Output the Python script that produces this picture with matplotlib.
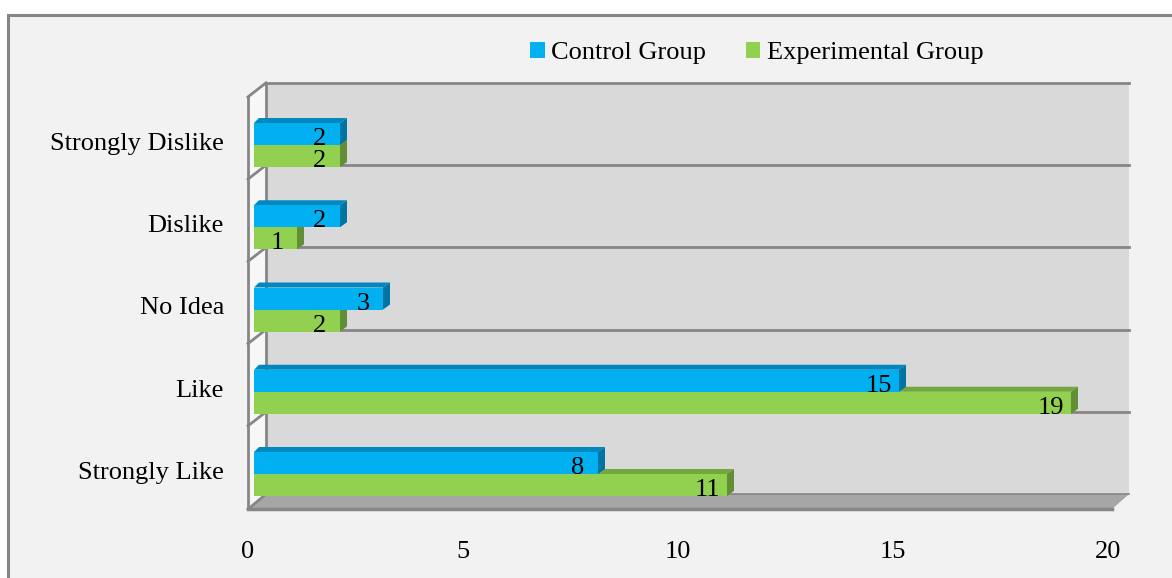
"""
Attitude toward the lessons: control vs experimental group, drawn as
Excel-style 3D clustered horizontal bars.
"""
import numpy as np
import matplotlib.pyplot as plt
from matplotlib.patches import Polygon, Rectangle, Patch

# Datos (de abajo hacia arriba)
categories = ['Strongly Like', 'Like', 'No Idea', 'Dislike', 'Strongly Dislike']
control = [8, 15, 3, 2, 2]
experimental = [11, 19, 2, 1, 2]
series_names = ['Control Group', 'Experimental Group']
xticks = [0, 5, 10, 15, 20]

# Colores (cara frontal, cara superior, cara lateral)
BLUE = ('#00b0f0', '#0088bf', '#0074a3')
GREEN = ('#92d050', '#73a83f', '#628f35')
WALL = '#d9d9d9'
SIDE_WALL = '#f7f7f7'
FLOOR = '#a6a6a6'
LINE = '#868686'
BG = '#f2f2f2'
FONT = 'Liberation Serif'

W, H = 1172, 578
fig = plt.figure(figsize=(W / 100, H / 100), dpi=100)
fig.patch.set_facecolor('white')
fig.patches.append(Rectangle((8 / W, -0.1), 1.2, (H - 15) / H + 0.1, zorder=-5,
                             transform=fig.transFigure, fc=BG, ec=LINE, lw=2.2))

# Ejes: 0..20 sobre 860 px, una categoria cada 82.25 px
ax = fig.add_axes([254 / W, (104 - 41.125) / H, 860 / W, 411.25 / H])
ax.set_xlim(0, 20)
ax.set_ylim(-0.5, 4.5)
ax.axis('off')
sx = 20 / 860      # unidades x por pixel
sy = 1 / 82.25     # unidades y por pixel

xmax = xticks[-1]
y_lo, y_hi = -0.5, len(categories) - 0.5

# Pared del fondo
bx0, bx1, bdy = 12 * sx, xmax + 15 * sx, 21 * sy
ax.add_patch(Polygon([(bx0, y_lo + bdy), (bx1, y_lo + bdy), (bx1, y_hi + bdy), (bx0, y_hi + bdy)],
                     closed=True, fc=WALL, ec='none', zorder=1, clip_on=False))
# Pared lateral izquierda
fx0, fdy = -6 * sx, 7 * sy
ax.add_patch(Polygon([(fx0, y_lo + 6 * sy), (bx0, y_lo + bdy), (bx0, y_hi + bdy), (fx0, y_hi + fdy)],
                     closed=True, fc=SIDE_WALL, ec='none', zorder=1, clip_on=False))
# Suelo
ax.add_patch(Polygon([(fx0, y_lo + 6 * sy), (bx0, y_lo + bdy), (bx1, y_lo + bdy), (xmax - 2 * sx, y_lo + 6 * sy)],
                     closed=True, fc=FLOOR, ec='none', zorder=1, clip_on=False))
ax.plot([fx0, xmax - 2 * sx], [y_lo + 6 * sy] * 2, color=LINE, lw=2.5, zorder=2, clip_on=False)
ax.plot([bx0, bx1], [y_lo + bdy] * 2, color=LINE, lw=1.2, zorder=2, clip_on=False)

# Lineas de division
edges = np.arange(len(categories) + 1) - 0.5
for k, e in enumerate(edges):
    if 0 < k:
        ax.plot([bx0, bx1], [e + bdy] * 2, color=LINE, lw=2, zorder=2, clip_on=False)
    ax.plot([fx0, bx0], [e + fdy if k else e + 6 * sy, e + bdy], color=LINE, lw=2, zorder=2, clip_on=False)
ax.plot([bx0, bx0], [y_lo + bdy, y_hi + bdy], color=LINE, lw=2, zorder=2, clip_on=False)
ax.plot([fx0, fx0], [y_lo + 6 * sy, y_hi + fdy], color=LINE, lw=2, zorder=2, clip_on=False)

# Barras 3D
hb = 22 * sy
ddx, ddy = 7 * sx, 5 * sy


def bar3d(yb, v, colors, z):
    front, top, side = colors
    yt = yb + hb
    ax.add_patch(Polygon([(0, yt), (v, yt), (v + ddx, yt + ddy), (5 * sx, yt + ddy)],
                         closed=True, fc=top, ec='none', zorder=z, clip_on=False))
    ax.add_patch(Polygon([(v, yb), (v, yt), (v + ddx, yt + ddy), (v + ddx, yb + ddy)],
                         closed=True, fc=side, ec='none', zorder=z, clip_on=False))
    ax.add_patch(Rectangle((0, yb), v, hb, fc=front, ec='none', zorder=z + 0.1, clip_on=False))
    ax.text(v - 20 * sx, yb + hb / 2 - 5 * sy, str(v), ha='center', va='center',
            fontsize=19, family=FONT, zorder=z + 0.2)


for i, (c, e) in enumerate(zip(control, experimental)):
    bar3d(i - hb, e, GREEN, 3)
    bar3d(i, c, BLUE, 4)

# Etiquetas de categorias
for i, cat in enumerate(categories):
    ax.text(-30 * sx, i + 1 * sy, cat, ha='right', va='center', fontsize=19, family=FONT)

# Etiquetas del eje de valores
for t in xticks:
    ax.text(t - 6 * sx, -78 * sy, str(t), ha='center', va='center', fontsize=19, family=FONT)

# Leyenda
handles = [Patch(fc=BLUE[0]), Patch(fc=GREEN[0])]
fig.legend(handles, series_names, ncol=2, loc='center', bbox_to_anchor=(757 / W, 1 - 53 / H),
           frameon=False, prop={'family': FONT, 'size': 19}, handlelength=0.55, handleheight=0.55,
           handletextpad=0.25, columnspacing=1.5)

fig.savefig('out.png', dpi=100, facecolor=fig.get_facecolor())
